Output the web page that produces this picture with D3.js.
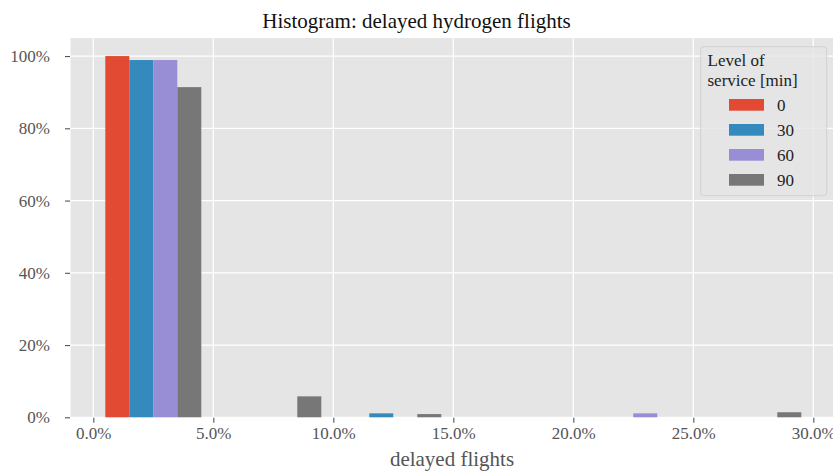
<!DOCTYPE html>
<html>
<head>
<meta charset="utf-8">
<script src="https://cdn.jsdelivr.net/npm/d3@7"></script>
<style>
  html, body { margin: 0; padding: 0; background: #ffffff; }
  svg { display: block; overflow: hidden; }
  text { font-family: "Liberation Serif", "DejaVu Serif", serif; }
</style>
</head>
<body>
<svg id="chart" width="833" height="473"></svg>
<script>
// Histogram bins (delayed share of flights, %)
const binEdges = [0, 5, 10, 15, 20, 25, 30];
// Level of service [min]
const levels = ["0", "30", "60", "90"];
// Share of days per bin (%), one array per level of service
const share0  = [100.0, 0.0, 0.0, 0.0, 0.0, 0.0];
const share30 = [98.9, 0.0, 1.1, 0.0, 0.0, 0.0];
const share60 = [98.9, 0.0, 0.0, 0.0, 1.1, 0.0];
const share90 = [91.4, 5.8, 0.9, 0.0, 0.0, 1.4];
const colors  = ["#E24A33", "#348ABD", "#988ED5", "#777777"];
const xTicks = [0, 5, 10, 15, 20, 25, 30];
const yTicks = [0, 20, 40, 60, 80, 100];

const series = [share0, share30, share60, share90];

const svg = d3.select("#chart");
const x = d3.scaleLinear().domain([-0.95, 30.95]).range([70.5, 836.1]);
const y = d3.scaleLinear().domain([0, 105]).range([417.3, 38]);

const plotL = x.range()[0], plotR = x.range()[1];
const plotT = y.range()[1], plotB = y.range()[0];

// panel background
svg.append("rect")
  .attr("x", plotL).attr("y", plotT)
  .attr("width", plotR - plotL).attr("height", plotB - plotT)
  .attr("fill", "#E5E5E5");

// grid
const grid = svg.append("g");
grid.selectAll("line.gx").data(xTicks).join("line")
  .attr("x1", d => x(d)).attr("x2", d => x(d))
  .attr("y1", plotT).attr("y2", plotB)
  .attr("stroke", "#ffffff").attr("stroke-width", 1.2);
grid.selectAll("line.gy").data(yTicks).join("line")
  .attr("x1", plotL).attr("x2", plotR)
  .attr("y1", d => y(d)).attr("y2", d => y(d))
  .attr("stroke", "#ffffff").attr("stroke-width", 1.2);

// grouped histogram bars: 80% of each bin shared by the series
const bars = svg.append("g");
series.forEach((vals, s) => {
  const rows = vals.map((v, i) => ({ lo: binEdges[i], hi: binEdges[i + 1], v }));
  bars.selectAll(null).data(rows.filter(r => r.v > 0)).join("rect")
    .attr("x", r => x(r.lo + (r.hi - r.lo) * (0.1 + 0.2 * s)))
    .attr("width", r => x(r.lo + (r.hi - r.lo) * (0.1 + 0.2 * (s + 1))) - x(r.lo + (r.hi - r.lo) * (0.1 + 0.2 * s)))
    .attr("y", r => y(r.v))
    .attr("height", r => y(0) - y(r.v))
    .attr("fill", colors[s]);
});

// axes
const xAxis = d3.axisBottom(x).tickValues(xTicks)
  .tickFormat(d => d.toFixed(1) + "%").tickSizeInner(5).tickSizeOuter(0).tickPadding(4);
const gx = svg.append("g").attr("transform", `translate(0,${plotB + 0.5})`).call(xAxis);
gx.select(".domain").remove();
gx.selectAll("line").attr("stroke", "#555555").attr("stroke-width", 1.1);
gx.selectAll("text").attr("fill", "#555555").attr("font-size", 17)
  .attr("font-family", "Liberation Serif, serif");

const yAxis = d3.axisLeft(y).tickValues(yTicks)
  .tickFormat(d => d + "%").tickSizeInner(5).tickSizeOuter(0).tickPadding(15);
const gy = svg.append("g").attr("transform", `translate(${plotL - 0.5},0)`).call(yAxis);
gy.select(".domain").remove();
gy.selectAll("line").attr("stroke", "#555555").attr("stroke-width", 1.1);
gy.selectAll("text").attr("fill", "#555555").attr("font-size", 17)
  .attr("font-family", "Liberation Serif, serif");

// title and axis label
svg.append("text")
  .attr("x", 416.5).attr("y", 28)
  .attr("text-anchor", "middle")
  .attr("font-size", 21).attr("fill", "#111111")
  .text("Histogram: delayed hydrogen flights");

svg.append("text")
  .attr("x", 452).attr("y", 466)
  .attr("text-anchor", "middle")
  .attr("font-size", 21).attr("fill", "#555555")
  .text("delayed flights");

// legend
const lg = svg.append("g");
lg.append("rect")
  .attr("x", 700.7).attr("y", 46.7).attr("width", 126).attr("height", 149)
  .attr("rx", 3).attr("ry", 3)
  .attr("fill", "#E5E5E5").attr("fill-opacity", 0.8)
  .attr("stroke", "#CCCCCC").attr("stroke-opacity", 0.8).attr("stroke-width", 1);
lg.append("text").attr("x", 707.5).attr("y", 66).attr("font-size", 17).attr("fill", "#222222").text("Level of");
lg.append("text").attr("x", 707.5).attr("y", 86).attr("font-size", 17).attr("fill", "#222222").text("service [min]");
const items = lg.selectAll("g.item").data(levels).join("g")
  .attr("transform", (d, i) => `translate(0,${99 + i * 25})`);
items.append("rect")
  .attr("x", 729).attr("y", 0).attr("width", 35).attr("height", 11.7)
  .attr("fill", (d, i) => colors[i]);
items.append("text")
  .attr("x", 777).attr("y", 11.5).attr("font-size", 17).attr("fill", "#222222")
  .text(d => d);
</script>
</body>
</html>
